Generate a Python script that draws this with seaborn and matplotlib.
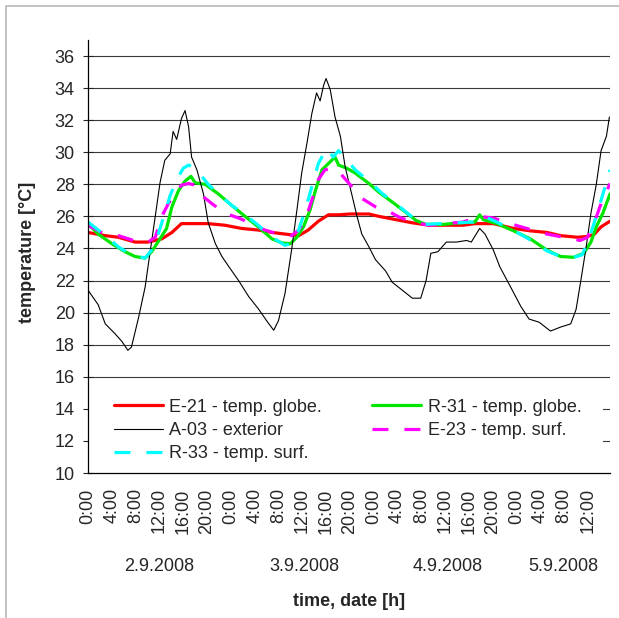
import numpy as np
import pandas as pd
import seaborn as sns
import matplotlib.pyplot as plt
from matplotlib.patches import Rectangle

# time in hours from 2.9.2008 0:00, temperatures in degC
ext_h = [0, 1.7, 2.9, 4.5, 5.7, 6.7, 7.3, 8.5, 9.6, 10.4, 11.3, 12.1, 12.9, 13.8, 14.3, 14.9,
         15.7, 16.3, 16.9, 17.4, 18.3, 19.4, 20.2, 21.4, 22.5, 23.6, 25.3, 27.0, 28.6, 30.0,
         31.2, 32.0, 33.1, 34.2, 35.1, 35.9, 36.8, 37.6, 38.4, 39.0, 39.6, 40.0, 40.7, 41.5,
         42.4, 43.2, 44.3, 45.2, 46.0, 47.2, 48.3, 50.0, 51.1, 52.8, 54.5, 55.9, 56.8, 57.6,
         58.8, 60.2, 61.9, 63.6, 64.4, 65.8, 66.7, 68.1, 69.2, 71.0, 72.7, 74.1, 75.8, 77.7,
         79.4, 81.1, 82.0, 82.8, 83.7, 84.5, 85.4, 86.2, 87.1, 87.6]
ext_t = [21.4, 20.5, 19.3, 18.7, 18.2, 17.65, 17.85, 19.7, 21.6, 23.7, 26.0, 28.1, 29.5, 29.9,
         31.3, 30.8, 32.1, 32.6, 31.6, 29.7, 28.9, 27.4, 25.6, 24.3, 23.5, 22.9, 22.0, 21.0,
         20.25, 19.5, 18.9, 19.5, 21.2, 23.9, 26.4, 28.7, 30.6, 32.4, 33.7, 33.2, 34.2, 34.6,
         33.9, 32.2, 31.0, 29.1, 27.4, 26.0, 24.9, 24.1, 23.3, 22.6, 21.9, 21.4, 20.9, 20.9,
         22.0, 23.7, 23.8, 24.4, 24.4, 24.5, 24.4, 25.25, 24.9, 23.9, 22.85, 21.6, 20.4, 19.6,
         19.4, 18.85, 19.1, 19.3, 20.2, 22.0, 24.1, 26.2, 28.0, 30.1, 31.0, 32.2]

e21_h = [0, 2.9, 5.1, 7.9, 10.1, 12.4, 14.1, 15.7, 18.0, 20.2, 23.0, 25.8, 28.6, 30.9, 33.1,
         35.4, 37.0, 38.7, 40.4, 42.1, 44.0, 47.2, 48.9, 51.7, 54.5, 57.3, 60.2, 63.0, 65.0,
         68.1, 71.5, 74.3, 77.1, 79.4, 82.2, 83.9, 85.1, 86.2, 87.7]
e21_t = [25.0, 24.8, 24.7, 24.4, 24.4, 24.6, 25.0, 25.55, 25.55, 25.55, 25.45, 25.25, 25.15,
         25.0, 24.9, 24.8, 25.15, 25.7, 26.1, 26.1, 26.15, 26.15, 26.0, 25.8, 25.6, 25.45,
         25.45, 25.45, 25.55, 25.55, 25.25, 25.1, 25.0, 24.8, 24.7, 24.75, 24.9, 25.35, 25.7]

r31_h = [0, 1.7, 4.0, 6.2, 7.9, 9.6, 10.7, 12.1, 13.2, 14.1, 15.2, 16.3, 17.3, 18.0, 19.7,
         21.9, 24.1, 26.4, 28.6, 30.9, 32.6, 34.0, 35.1, 36.2, 37.3, 38.2, 39.3, 40.4, 41.5,
         42.1, 43.5, 44.9, 47.2, 48.9, 51.1, 53.4, 55.1, 56.8, 59.6, 62.5, 65.0, 65.8, 66.4,
         68.7, 71.5, 74.3, 77.1, 79.4, 81.6, 83.3, 84.5, 85.4, 86.5, 87.7]
r31_t = [25.55, 24.9, 24.3, 23.8, 23.5, 23.4, 23.8, 24.6, 25.25, 26.6, 27.6, 28.2, 28.5, 28.1,
         28.0, 27.4, 26.7, 26.0, 25.35, 24.6, 24.35, 24.3, 24.7, 25.35, 26.4, 27.6, 28.9, 29.3,
         29.7, 29.2, 29.0, 28.7, 28.05, 27.5, 26.9, 26.25, 25.75, 25.5, 25.5, 25.6, 25.65, 26.1,
         25.8, 25.55, 25.1, 24.6, 23.9, 23.5, 23.45, 23.7, 24.4, 25.35, 26.2, 27.4]

e23_h = [0, 2.3, 5.1, 6.8, 8.5, 10.1, 11.3, 12.4, 13.5, 14.6, 15.7, 16.9, 18.0, 18.8, 20.8,
         23.0, 25.3, 27.5, 29.7, 32.0, 34.2, 35.4, 36.5, 37.6, 38.7, 39.8, 41.0, 42.1, 44.0,
         46.1, 48.3, 50.6, 52.3, 54.5, 57.3, 60.2, 63.0, 65.8, 68.1, 70.9, 73.7, 77.1, 79.9,
         82.7, 83.9, 85.0, 86.2, 87.7]
e23_t = [25.45, 25.0, 24.8, 24.6, 24.4, 24.4, 24.7, 26.0, 26.8, 27.4, 27.95, 28.05, 27.95,
         27.4, 26.8, 26.2, 25.9, 25.55, 25.15, 24.9, 24.8, 25.15, 25.8, 27.0, 28.3, 28.9, 29.0,
         28.8, 28.0, 27.1, 26.6, 26.3, 25.95, 25.65, 25.45, 25.55, 25.65, 26.0, 25.9, 25.55,
         25.25, 24.9, 24.7, 24.5, 24.7, 25.55, 26.8, 28.05]

r33_h = [0, 2.9, 5.1, 7.3, 9.6, 10.7, 11.8, 12.9, 13.8, 14.9, 16.0, 16.9, 18.0, 19.1, 20.2,
         21.9, 24.1, 26.4, 28.6, 30.9, 33.1, 34.2, 35.4, 36.5, 37.6, 38.7, 40.1, 41.2, 42.1,
         43.3, 44.9, 47.2, 49.5, 51.7, 54.0, 56.2, 59.1, 61.9, 64.7, 66.4, 68.1, 70.3, 72.6,
         74.9, 77.1, 79.4, 81.6, 83.0, 83.9, 85.0, 86.2, 87.7]
r33_t = [25.65, 24.8, 24.1, 23.6, 23.4, 23.9, 24.9, 26.2, 27.3, 28.3, 29.0, 29.2, 29.0, 28.5,
         28.0, 27.4, 26.7, 26.1, 25.45, 24.7, 24.2, 24.3, 25.15, 26.4, 27.85, 29.3, 30.25, 29.7,
         30.1, 29.6, 28.9, 28.2, 27.4, 26.8, 26.1, 25.5, 25.55, 25.6, 25.65, 26.0, 25.75, 25.35,
         24.9, 24.4, 23.85, 23.5, 23.45, 23.6, 24.3, 25.55, 27.0, 28.9]

tick_hours = list(range(0, 85, 4))
tick_labels = [f"{h % 24}:00" for h in tick_hours]
dates = ["2.9.2008", "3.9.2008", "4.9.2008", "5.9.2008"]
date_pos = [12, 36.4, 60.4, 79.8]

sns.set_style("white")
plt.rcParams['font.family'] = ['Liberation Sans', 'DejaVu Sans']

fig = plt.figure(figsize=(6.19, 6.18), dpi=100)
ax = fig.add_axes([88 / 619, 1 - 473 / 618, 522 / 619, 433 / 618])

series = [
    ("E-21 - temp. globe.", e21_h, e21_t, "#ff0000", 2.3, "-"),
    ("R-31 - temp. globe.", r31_h, r31_t, "#00e600", 2.3, "-"),
    ("A-03 - exterior", ext_h, ext_t, "black", 0.8, "-"),
    ("E-23 - temp. surf.", e23_h, e23_t, "#ff00ff", 2.3, (0, (5, 5))),
    ("R-33 - temp. surf.", r33_h, r33_t, "#00ffff", 2.3, (0, (5, 5))),
]
handles = {}
for name, hh, tt, col, lw, ls in series:
    df = pd.DataFrame({"h": hh, "t": tt})
    sns.lineplot(data=df, x="h", y="t", ax=ax, color=col, lw=lw, linestyle=ls,
                 estimator=None, sort=False, label=name, legend=False)
    handles[name] = ax.lines[-1]

ax.set_xlim(0, 87.7)
ax.set_ylim(10, 37)
ax.set_yticks(range(10, 37, 2))
ax.set_xticks(tick_hours)
ax.set_xticklabels(tick_labels, rotation=90, fontsize=13)
ax.tick_params(axis='x', length=0, pad=11)
ax.tick_params(axis='y', direction='inout', length=7, width=0.8, pad=6, labelsize=13, left=True)
ax.set_xlabel("")
ax.set_ylabel("")
for y in range(12, 37, 2):
    ax.axhline(y, color='#3a3a3a', lw=0.8, zorder=0.5)
ax.spines['top'].set_visible(False)
ax.spines['right'].set_visible(False)
for s in ['left', 'bottom']:
    ax.spines[s].set_color('black')
    ax.spines[s].set_linewidth(0.9)

# white block behind the legend
ax.add_patch(Rectangle((0, 10.05), 0.987 * 87.7, 5.3, facecolor='white', edgecolor='none', zorder=1))
order = ["E-21 - temp. globe.", "A-03 - exterior", "R-33 - temp. surf.",
         "R-31 - temp. globe.", "E-23 - temp. surf."]
ax.legend([handles[n] for n in order], order, ncol=2, frameon=False, fontsize=13,
          loc='upper left', bbox_to_anchor=(0.05, 0.172), borderpad=0, borderaxespad=0,
          handlelength=2.7, handletextpad=0.35, columnspacing=2.8, labelspacing=0.35)

for d, p in zip(dates, date_pos):
    ax.text(p, -0.217, d, transform=ax.get_xaxis_transform(), ha='center', va='center', fontsize=13)

fig.text(349 / 619, 1 - 602 / 618, "time, date [h]", ha='center', va='center',
         fontsize=13, fontweight='bold')
fig.text(27 / 619, 1 - 252 / 618, "temperature [°C]", ha='center', va='center',
         rotation=90, fontsize=13, fontweight='bold')

fig.patches.append(Rectangle((5.5 / 619, -0.1), 1.2, 1.1 - 6.5 / 618, transform=fig.transFigure,
                             fill=False, edgecolor='#b8b8b8', lw=1.2))

fig.savefig("out.png", dpi=100)
